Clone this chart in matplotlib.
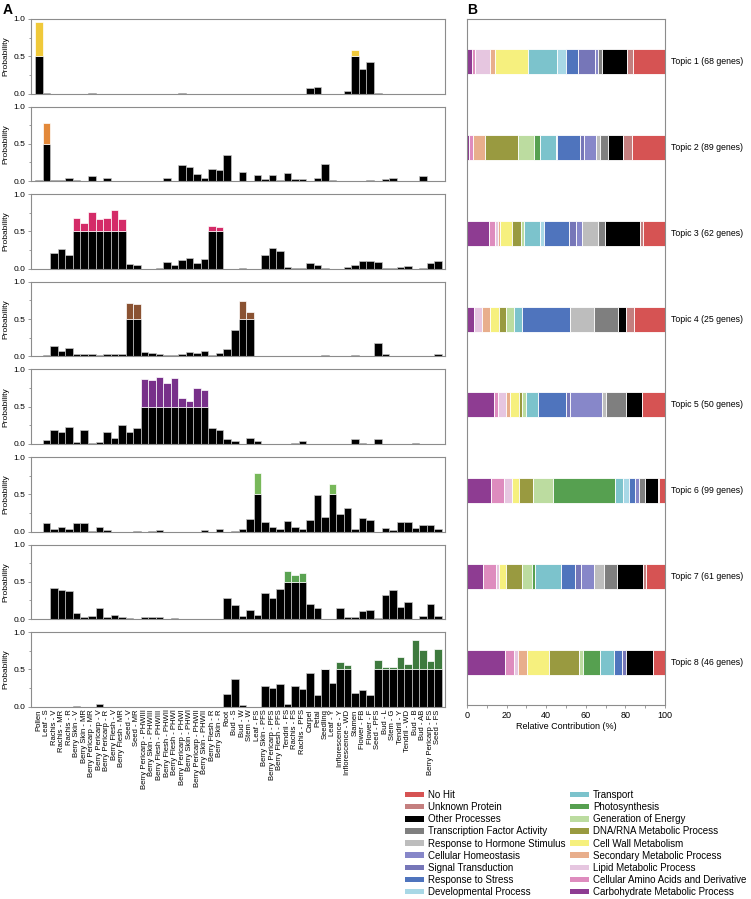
import matplotlib
matplotlib.use('Agg')
import matplotlib.pyplot as plt
from matplotlib.patches import Patch
from matplotlib.ticker import MultipleLocator
import numpy as np

plt.rcParams['font.family'] = ['Liberation Sans', 'DejaVu Sans']

# ---------------- data ----------------
tissues = ['Pollen', 'Leaf - S', 'Rachis - V', 'Rachis - MR', 'Rachis - R', 'Berry Skin - V',
           'Berry Skin - MR', 'Berry Pericarp - MR', 'Berry Pericarp - V', 'Berry Pericarp - R',
           'Berry Flesh - V', 'Berry Flesh - MR', 'Seed - V', 'Seed - MR',
           'Berry Pericarp - PHWIII', 'Berry Skin - PHWIII', 'Berry Flesh - PHWIII',
           'Berry Flesh - PHWII', 'Berry Flesh - PHWI', 'Berry Pericarp - PHWI',
           'Berry Skin - PHWI', 'Berry Pericarp - PHWII', 'Berry Skin - PHWII',
           'Berry Flesh - R', 'Berry Skin - R', 'Root', 'Bud - S', 'Bud - W', 'Stem - W',
           'Leaf - FS', 'Berry Skin - PFS', 'Berry Pericarp - PFS', 'Berry Flesh - PFS',
           'Tendril - FS', 'Rachis - FS', 'Rachis - PFS', 'Carpel', 'Petal', 'Seedling',
           'Leaf - Y', 'Inflorescence - Y', 'Inflorescence - WD', 'Stamen', 'Flower - FB',
           'Flower - F', 'Seed - PFS', 'Bud - L', 'Stem - G', 'Tendril - Y', 'Tendril - WD',
           'Bud - B', 'Bud - AB', 'Berry Pericarp - FS', 'Seed - FS']

topic1 = [0.955, 0.013, 0, 0, 0, 0, 0, 0.005, 0, 0,
          0, 0, 0, 0, 0, 0, 0, 0, 0, 0.005,
          0, 0, 0, 0, 0, 0, 0, 0, 0, 0,
          0, 0, 0, 0, 0, 0, 0.07, 0.085, 0, 0,
          0, 0.03, 0.58, 0.335, 0.42, 0.01, 0, 0, 0, 0,
          0, 0, 0, 0]
topic2 = [0.01, 0.78, 0.013, 0.013, 0.036, 0.013, 0, 0.072, 0, 0.036,
          0, 0, 0, 0, 0, 0.008, 0, 0.036, 0, 0.21,
          0.185, 0.095, 0.036, 0.167, 0.153, 0.347, 0, 0.126, 0.005, 0.077,
          0.022, 0.086, 0.013, 0.113, 0.022, 0.022, 0.005, 0.045, 0.23, 0.013,
          0, 0.008, 0, 0, 0.013, 0, 0.022, 0.036, 0, 0.008,
          0.008, 0.063, 0, 0]
topic3 = [0, 0, 0.205, 0.268, 0.179, 0.683, 0.607, 0.763, 0.665, 0.679,
          0.79, 0.67, 0.067, 0.045, 0, 0, 0.009, 0.089, 0.054, 0.116,
          0.138, 0.08, 0.129, 0.567, 0.558, 0, 0, 0.009, 0, 0,
          0.19, 0.277, 0.232, 0.022, 0.013, 0.013, 0.076, 0.054, 0.013, 0,
          0, 0.027, 0.045, 0.103, 0.103, 0.085, 0.009, 0.009, 0.022, 0.04,
          0, 0.013, 0.08, 0.1]
topic4 = [0.009, 0.013, 0.135, 0.072, 0.117, 0.036, 0.036, 0.031, 0.018, 0.027,
          0.036, 0.027, 0.717, 0.704, 0.054, 0.049, 0.027, 0.022, 0.022, 0.027,
          0.063, 0.045, 0.072, 0.022, 0.04, 0.103, 0.35, 0.74, 0.6, 0.009,
          0, 0, 0, 0.009, 0, 0, 0.009, 0, 0.022, 0,
          0, 0.009, 0.022, 0, 0, 0.175, 0.036, 0, 0, 0,
          0, 0.009, 0.005, 0.03]
topic5 = [0, 0.058, 0.193, 0.161, 0.229, 0.027, 0.184, 0.018, 0.031, 0.157,
          0.085, 0.256, 0.161, 0.22, 0.87, 0.861, 0.897, 0.816, 0.883, 0.61,
          0.574, 0.749, 0.722, 0.22, 0.193, 0.067, 0.04, 0, 0.081, 0.04,
          0, 0, 0, 0.005, 0.018, 0.04, 0.005, 0, 0, 0,
          0, 0, 0.072, 0.013, 0, 0.072, 0, 0, 0, 0,
          0.013, 0, 0, 0]
topic6 = [0, 0.112, 0.027, 0.058, 0.031, 0.108, 0.108, 0.009, 0.054, 0.022,
          0, 0, 0, 0.005, 0, 0.009, 0.018, 0, 0, 0,
          0, 0, 0.018, 0, 0.031, 0, 0.013, 0.031, 0.17, 0.785,
          0.13, 0.058, 0.027, 0.143, 0.054, 0.036, 0.161, 0.493, 0.188, 0.641,
          0.238, 0.309, 0.031, 0.184, 0.152, 0, 0.045, 0.018, 0.126, 0.126,
          0.045, 0.085, 0.085, 0.03]
topic7 = [0, 0, 0.413, 0.395, 0.372, 0.085, 0.027, 0.04, 0.148, 0.027,
          0.049, 0.027, 0.018, 0, 0.031, 0.031, 0.031, 0, 0.009, 0,
          0, 0, 0, 0, 0, 0.287, 0.193, 0.045, 0.117, 0.049,
          0.354, 0.278, 0.4, 0.641, 0.596, 0.619, 0.206, 0.143, 0, 0,
          0.143, 0.031, 0.031, 0.112, 0.126, 0.009, 0.327, 0.39, 0.166, 0.233,
          0, 0.036, 0.197, 0.04]
topic8 = [0, 0, 0, 0, 0, 0.009, 0, 0, 0.04, 0,
          0, 0, 0, 0, 0, 0, 0, 0, 0, 0,
          0, 0, 0, 0, 0, 0.167, 0.378, 0.027, 0, 0,
          0.279, 0.257, 0.311, 0.04, 0.279, 0.234, 0.446, 0.153, 0.509, 0.324,
          0.595, 0.563, 0.189, 0.225, 0.153, 0.622, 0.527, 0.527, 0.662, 0.568,
          0.896, 0.766, 0.613, 0.77]
topic_probs = [topic1, topic2, topic3, topic4, topic5, topic6, topic7, topic8]
topic_colors = ['#f0c93a', '#e3893a', '#d42b68', '#8a5232', '#78308a', '#78b85a', '#5aa352', '#3e7a3e']

# Panel B
topic_names = ['Topic 1', 'Topic 2', 'Topic 3', 'Topic 4', 'Topic 5', 'Topic 6', 'Topic 7', 'Topic 8']
topic_genes = [68, 89, 62, 25, 50, 99, 61, 46]
categories = ['Carbohydrate Metabolic Process', 'Cellular Amino Acids and Derivative',
              'Lipid Metabolic Process', 'Secondary Metabolic Process', 'Cell Wall Metabolism',
              'DNA/RNA Metabolic Process', 'Generation of Energy', 'Photosynthesis', 'Transport',
              'Developmental Process', 'Response to Stress', 'Signal Transduction',
              'Cellular Homeostasis', 'Response to Hormone Stimulus',
              'Transcription Factor Activity', 'Other Processes', 'Unknown Protein', 'No Hit']
cat_colors = ['#8e3c92', '#de8cbe', '#e6c6e0', '#e8ae8c', '#f6f07e', '#999a40', '#bcdca0',
              '#56a050', '#7cc3cc', '#a8d8e6', '#4f74bd', '#7676b8', '#8787c9', '#bdbdbd',
              '#7f7f7f', '#000000', '#c47f7f', '#d65353']
contrib_t1 = [2.7, 1.2, 7.9, 2.5, 16.5, 0, 0, 0, 14.7, 4.7, 5.8, 8.8, 1.5, 0, 1.7, 12.8, 3.0, 16.2]
contrib_t2 = [0.8, 2.3, 0, 5.8, 0, 16.7, 8.1, 3.3, 7.7, 0.6, 11.8, 1.8, 6.4, 2.0, 3.7, 7.8, 4.7, 16.5]
contrib_t3 = [11.3, 3.0, 1.2, 1.4, 5.6, 4.6, 1.8, 0, 8.1, 1.8, 12.8, 3.3, 3.3, 8.2, 3.3, 17.5, 1.8, 11.0]
contrib_t4 = [3.5, 0, 4.2, 4.1, 4.2, 3.9, 4.0, 0, 4.0, 0, 24.1, 0, 0, 12.3, 12.0, 3.9, 4.0, 15.8]
contrib_t5 = [13.6, 2.0, 4.3, 1.8, 4.5, 1.7, 1.9, 0, 6.1, 0, 14.2, 2.0, 16.0, 2.1, 10.2, 7.9, 0, 11.7]
contrib_t6 = [11.9, 6.7, 4.2, 0, 3.5, 6.9, 10.4, 31.2, 3.8, 3.4, 2.8, 0, 2.1, 0, 3.0, 6.4, 0.8, 2.9]
contrib_t7 = [8.0, 6.5, 1.8, 0, 3.3, 8.3, 4.9, 1.6, 13.3, 0, 6.6, 3.1, 6.7, 5.1, 6.4, 13.1, 1.5, 9.8]
contrib_t8 = [19.3, 4.5, 2.2, 4.4, 11.1, 15.1, 2.2, 8.6, 6.6, 0, 4.5, 2.0, 0, 0, 0, 13.3, 0, 6.2]
contributions = [contrib_t1, contrib_t2, contrib_t3, contrib_t4, contrib_t5, contrib_t6, contrib_t7, contrib_t8]

# ---------------- figure ----------------
W, H = 751, 899
fig = plt.figure(figsize=(W / 100, H / 100), dpi=100)
fig.patch.set_facecolor('white')


def rect(x0, top, x1, bottom):
    return [x0 / W, 1 - bottom / H, (x1 - x0) / W, (bottom - top) / H]


spine_c = '#8c8c8c'
x = np.arange(len(tissues))
for i, (probs, tc) in enumerate(zip(topic_probs, topic_colors)):
    top = 19 + 87.6 * i
    ax = fig.add_axes(rect(31, top, 445, top + 74.5))
    v = np.array(probs)
    ax.bar(x, np.minimum(v, 0.5), width=1.0, color='black', edgecolor='#c4c4c4', linewidth=0.5)
    m = v > 0.5
    ax.bar(x[m], v[m] - 0.5, bottom=0.5, width=1.0, color=tc, edgecolor='white', linewidth=0.5)
    ax.set_xlim(-1.07, 53.93)
    ax.set_ylim(0, 1.0)
    for s in ax.spines.values():
        s.set_color(spine_c)
        s.set_linewidth(0.8)
    ax.set_yticks([0, 0.5, 1.0])
    ax.set_yticklabels(['0.0', '0.5', '1.0'])
    ax.yaxis.set_minor_locator(MultipleLocator(0.25))
    ax.tick_params(axis='y', which='both', direction='out', length=2.5, width=0.6,
                   color=spine_c, labelsize=6, pad=1.5)
    ax.tick_params(axis='y', which='minor', length=1.8)
    ax.set_ylabel('Probability', fontsize=6, labelpad=3)
    if i == 7:
        ax.set_xticks(x)
        ax.set_xticklabels(tissues, rotation=90, fontsize=5.5)
        ax.tick_params(axis='x', length=0, pad=2)
    else:
        ax.set_xticks([])

# Panel B
axb = fig.add_axes(rect(467, 19, 665, 705))
ypos = np.arange(len(topic_names))
for ti, contrib in enumerate(contributions):
    left = 0.0
    for ci, val in enumerate(contrib):
        if val > 0:
            axb.barh(ti, val, left=left, height=0.29, color=cat_colors[ci],
                     edgecolor='white', linewidth=0.6)
        left += val
    axb.text(103, ti, f'{topic_names[ti]} ({topic_genes[ti]} genes)', va='center',
             ha='left', fontsize=6.3, clip_on=False)
axb.set_xlim(0, 100)
axb.set_ylim(7.5, -0.5)
axb.set_yticks([])
axb.set_xticks([0, 20, 40, 60, 80, 100])
axb.xaxis.set_minor_locator(MultipleLocator(10))
axb.tick_params(axis='x', which='both', direction='out', length=2.5, width=0.6,
                color=spine_c, labelsize=6.5, pad=2)
axb.tick_params(axis='x', which='minor', length=1.8)
axb.set_xlabel('Relative Contribution (%)', fontsize=6.5, labelpad=1)
for s in axb.spines.values():
    s.set_color(spine_c)
    s.set_linewidth(0.8)

fig.text(3 / W, 1 - 10 / H, 'A', fontsize=10, fontweight='bold', va='center', ha='left')
fig.text(467 / W, 1 - 10 / H, 'B', fontsize=10, fontweight='bold', va='center', ha='left')

# Legend (reverse of stacking order)
legend_labels = categories[::-1]
legend_colors = cat_colors[::-1]
handles = [Patch(facecolor=c, edgecolor='none') for c in legend_colors]
fig.legend(handles, legend_labels, loc='upper left', bbox_to_anchor=(405 / W, 1 - 790 / H),
           ncol=2, frameon=False, fontsize=7, handlelength=2.0, handleheight=0.5,
           handletextpad=0.4, columnspacing=0.4, labelspacing=0.22, borderpad=0,
           borderaxespad=0)

fig.savefig('out.png', dpi=100, facecolor='white')
